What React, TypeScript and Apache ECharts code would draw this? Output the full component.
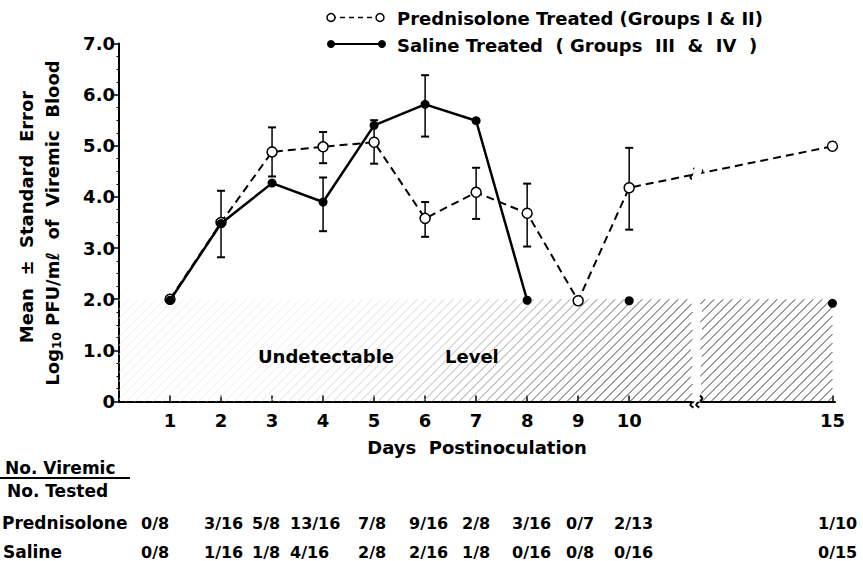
import React, { useEffect, useRef } from 'react';
import * as echarts from 'echarts';

// ---- data ----
const predDays = [1, 2, 3, 4, 5, 6, 7, 8, 9, 10, 15];
const predMeans = [2.0, 3.5, 4.88, 4.98, 5.07, 3.58, 4.09, 3.68, 1.97, 4.18, 4.99];
const predErrDays = [2, 3, 4, 5, 6, 7, 8, 10];
const predErrLow = [2.82, 4.4, 4.66, 4.65, 3.22, 3.57, 3.03, 3.36];
const predErrHigh = [4.12, 5.36, 5.27, 5.5, 3.9, 4.57, 4.26, 4.96];

const salLineDays = [1, 2, 3, 4, 5, 6, 7, 8];
const salLineMeans = [1.98, 3.48, 4.27, 3.9, 5.4, 5.81, 5.49, 1.98];
const salDotDays = [10, 15];
const salDotMeans = [1.97, 1.92];
const salErrDays = [4, 6];
const salErrLow = [3.33, 5.18];
const salErrHigh = [4.38, 6.38];

const dayTicks = [1, 2, 3, 4, 5, 6, 7, 8, 9, 10, 15];
const yTicks = [0, 1, 2, 3, 4, 5, 6, 7];
const undetectableLevel = 2.0;
const axisBreakStart = 11.24;
const axisBreakEnd = 12.41;

const tableDays = [1, 2, 3, 4, 5, 6, 7, 8, 9, 10, 15];
const predViremic = ['0/8', '3/16', '5/8', '13/16', '7/8', '9/16', '2/8', '3/16', '0/7', '2/13', '1/10'];
const salViremic = ['0/8', '1/16', '1/8', '4/16', '2/8', '2/16', '1/8', '0/16', '0/8', '0/16', '0/15'];

// ---- layout ----
const FONT = '"DejaVu Sans", sans-serif';
const tableX = [141, 204, 252, 290, 358, 409, 462, 512, 566, 614, 818];

export default function App() {
  const ref = useRef<HTMLDivElement>(null);
  useEffect(() => {
    document.body.style.margin = '0';
    if (!ref.current) return;
    const chart = echarts.init(ref.current, null, { renderer: 'svg' });

    const errRender = (lw: number) => (params: any, api: any) => {
      const x = api.value(0), lo = api.value(1), hi = api.value(2);
      const a = api.coord([x, hi]);
      const b = api.coord([x, lo]);
      const w = 4;
      const st = { stroke: '#000', lineWidth: lw };
      return {
        type: 'group',
        children: [
          { type: 'line', shape: { x1: a[0], y1: a[1], x2: b[0], y2: b[1] }, style: st },
          { type: 'line', shape: { x1: a[0] - w, y1: a[1], x2: a[0] + w, y2: a[1] }, style: { stroke: '#000', lineWidth: 2 } },
          { type: 'line', shape: { x1: b[0] - w, y1: b[1], x2: b[0] + w, y2: b[1] }, style: { stroke: '#000', lineWidth: 2 } },
        ],
      };
    };

    const hatchRender = (params: any, api: any) => {
      const x0 = api.value(0), x1 = api.value(1), top = api.value(2);
      const pTL = api.coord([x0, top]);
      const pBR = api.coord([x1, 0]);
      const xL = pTL[0], xR = pBR[0], yT = pTL[1], yB = pBR[1];
      const H = yB - yT;
      const step = 9;
      const children: any[] = [];
      const cStart = Math.floor((xL - H) / step) * step;
      for (let c = cStart; c <= xR; c += step) {
        const t0 = Math.max(0, xL - c);
        const t1 = Math.min(H, xR - c);
        if (t1 <= t0) continue;
        const xm = c + (t0 + t1) / 2;
        const k = Math.min(1, Math.max(0, (xm - 250) / 380));
        const g = Math.round(236 - 180 * k * k);
        children.push({
          type: 'line',
          shape: { x1: c + t0, y1: yB - t0, x2: c + t1, y2: yB - t1 },
          style: { stroke: `rgb(${g},${g},${g})`, lineWidth: 1 },
        });
      }
      return { type: 'group', children };
    };

    const txt = (text: string, x: number, y: number, size = 17, extra: any = {}) => ({
      type: 'text',
      x,
      y,
      z: 120,
      style: {
        text,
        font: `bold ${size}px ${FONT}`,
        fill: '#000',
        verticalAlign: 'middle',
        textVerticalAlign: 'middle',
        ...extra,
      },
    });

    const graphic: any[] = [
      // legend
      { type: 'line', z: 120, shape: { x1: 331, y1: 17.5, x2: 380, y2: 17.5 }, style: { stroke: '#000', lineWidth: 1.5, lineDash: [5, 4] } },
      { type: 'circle', z: 121, shape: { cx: 331, cy: 17.5, r: 4 }, style: { fill: '#fff', stroke: '#000', lineWidth: 1.5 } },
      { type: 'circle', z: 121, shape: { cx: 380, cy: 17.5, r: 4 }, style: { fill: '#fff', stroke: '#000', lineWidth: 1.5 } },
      txt('Prednisolone Treated (Groups I & II)', 397, 18, 18),
      { type: 'line', z: 120, shape: { x1: 331, y1: 44, x2: 382, y2: 44 }, style: { stroke: '#000', lineWidth: 2 } },
      { type: 'circle', z: 121, shape: { cx: 331, cy: 44, r: 4 }, style: { fill: '#000' } },
      { type: 'circle', z: 121, shape: { cx: 382, cy: 44, r: 4 }, style: { fill: '#000' } },
      txt('Saline Treated  ( Groups  III  &  IV  )', 397, 45, 18),
      // y axis title
      {
        type: 'text',
        x: 26,
        y: 217,
        z: 120,
        rotation: Math.PI / 2,
        style: {
          text: 'Mean  ±  Standard  Error',
          font: `bold 18px ${FONT}`,
          fill: '#000',
          align: 'center',
          textAlign: 'center',
          verticalAlign: 'middle',
          textVerticalAlign: 'middle',
        },
      },
      {
        type: 'text',
        x: 52,
        y: 223,
        z: 120,
        rotation: Math.PI / 2,
        style: {
          text: '{a|Log}{s|10}{a| PFU/mℓ  of  Viremic  Blood}',
          align: 'center',
          textAlign: 'center',
          verticalAlign: 'middle',
          textVerticalAlign: 'middle',
          rich: {
            a: { font: `bold 18px ${FONT}`, fill: '#000', color: '#000', lineHeight: 22, verticalAlign: 'middle' },
            s: { font: `bold 12px ${FONT}`, fill: '#000', color: '#000', lineHeight: 12, verticalAlign: 'bottom', padding: [7, 0, 0, 0] },
          },
        },
      },
      // undetectable level
      txt('Undetectable', 258, 356, 18),
      txt('Level', 445, 356, 18),
      // table
      txt('No. Viremic', 5, 468, 17),
      { type: 'line', z: 120, shape: { x1: 0, y1: 478, x2: 130, y2: 478 }, style: { stroke: '#000', lineWidth: 2 } },
      txt('No. Tested', 7, 491, 17),
      txt('Prednisolone', 2, 523, 17),
      txt('Saline', 3, 552, 17),
      ...tableDays.map((d, i) => txt(predViremic[i], tableX[i], 523, 16)),
      ...tableDays.map((d, i) => txt(salViremic[i], tableX[i], 552, 16)),
    ];

    const option: any = {
      animation: false,
      backgroundColor: '#fff',
      grid: { left: 119, right: 28, top: 43.5, bottom: 159.5, containLabel: false },
      xAxis: {
        type: 'value',
        min: 0,
        max: 15.05,
        breaks: [{ start: axisBreakStart, end: axisBreakEnd, gap: '1.1%' }],
        breakArea: {
          show: true,
          itemStyle: { color: '#fff', borderWidth: 0, opacity: 1 },
          zigzagAmplitude: 2,
        },
        name: 'Days  Postinoculation',
        nameLocation: 'middle',
        nameGap: 37,
        nameTextStyle: { fontFamily: FONT, fontWeight: 'bold', fontSize: 18, color: '#000' },
        axisLine: { lineStyle: { color: '#000', width: 2 } },
        axisTick: { show: true, inside: true, length: 6, lineStyle: { color: '#000', width: 1.5 }, customValues: dayTicks },
        axisLabel: {
          customValues: dayTicks,
          color: '#000',
          fontFamily: FONT,
          fontWeight: 'bold',
          fontSize: 18,
          margin: 10,
          formatter: (v: number) => String(v),
        },
        splitLine: { show: false },
      },
      yAxis: {
        type: 'value',
        min: 0,
        max: 7,
        interval: 1,
        axisLine: { show: true, lineStyle: { color: '#000', width: 2 } },
        axisTick: { show: true, length: 5, lineStyle: { color: '#000', width: 1.5 } },
        minorTick: { show: true, splitNumber: 4, length: 2.5, lineStyle: { color: '#000', width: 1 } },
        axisLabel: {
          customValues: yTicks,
          color: '#000',
          fontFamily: FONT,
          fontWeight: 'bold',
          fontSize: 18,
          margin: 4,
          formatter: (v: number) => (v === 0 ? '0' : v.toFixed(1)),
        },
        splitLine: { show: false },
      },
      graphic,
      series: [
        {
          type: 'custom',
          name: 'Undetectable',
          z: 1,
          silent: true,
          clip: false,
          renderItem: hatchRender,
          encode: { x: [0, 1], y: 2 },
          data: [
            [0, axisBreakStart, undetectableLevel],
            [axisBreakEnd, 15, undetectableLevel],
          ],
        },
        {
          type: 'custom',
          name: 'Prednisolone SE',
          z: 3,
          silent: true,
          renderItem: errRender(1.5),
          encode: { x: 0, y: [1, 2] },
          data: predErrDays.map((d, i) => [d, predErrLow[i], predErrHigh[i]]),
        },
        {
          type: 'custom',
          name: 'Saline SE',
          z: 3,
          silent: true,
          renderItem: errRender(1.5),
          encode: { x: 0, y: [1, 2] },
          data: salErrDays.map((d, i) => [d, salErrLow[i], salErrHigh[i]]),
        },
        {
          type: 'line',
          name: 'Prednisolone Treated',
          z: 4,
          data: predDays.map((d, i) => [d, predMeans[i]]),
          symbol: 'circle',
          symbolSize: 10,
          showAllSymbol: true,
          itemStyle: { color: '#fff', borderColor: '#000', borderWidth: 1.5 },
          lineStyle: { color: '#000', width: 2, type: [8, 5] },
        },
        {
          type: 'line',
          name: 'Saline Treated',
          z: 5,
          data: salLineDays.map((d, i) => [d, salLineMeans[i]]),
          symbol: 'circle',
          symbolSize: 9,
          itemStyle: { color: '#000' },
          lineStyle: { color: '#000', width: 2.5 },
        },
        {
          type: 'scatter',
          name: 'Saline Treated ',
          z: 5,
          data: salDotDays.map((d, i) => [d, salDotMeans[i]]),
          symbol: 'circle',
          symbolSize: 9,
          itemStyle: { color: '#000', opacity: 1 },
        },
      ],
    };
    chart.setOption(option);

    // break marks on the axis and on the dashed line, placed via the axis scale
    const pA = chart.convertToPixel({ gridIndex: 0 }, [axisBreakStart, 0]) as number[];
    const pB = chart.convertToPixel({ gridIndex: 0 }, [axisBreakEnd, 0]) as number[];
    const p10 = chart.convertToPixel({ gridIndex: 0 }, [predDays[9], predMeans[9]]) as number[];
    const p15 = chart.convertToPixel({ gridIndex: 0 }, [predDays[10], predMeans[10]]) as number[];
    if (pA && pB && p10 && p15) {
      const squiggle = (x: number, y: number) => ({
        type: 'polyline',
        z: 100,
        shape: {
          points: [
            [x, y - 6],
            [x + 3, y - 3],
            [x - 3, y + 3],
            [x, y + 6],
          ],
          smooth: 0.4,
        },
        style: { stroke: '#000', lineWidth: 2, fill: null },
      });
      const xm = (pA[0] + pB[0]) / 2;
      const t = (xm - p10[0]) / (p15[0] - p10[0]);
      const ym = p10[1] + t * (p15[1] - p10[1]);
      const marks = [
        squiggle(pA[0] + 1, pA[1]),
        squiggle(pB[0] - 1, pB[1]),
        { type: 'rect', z: 99, shape: { x: xm - 4, y: ym - 5, width: 8, height: 10 }, style: { fill: '#fff' } },
        squiggle(xm - 3, ym),
        squiggle(xm + 3, ym),
      ];
      chart.setOption({ graphic: [...graphic, ...marks] });
    }
    return () => chart.dispose();
  }, []);
  return <div ref={ref} style={{ width: 863, height: 561 }} />;
}
